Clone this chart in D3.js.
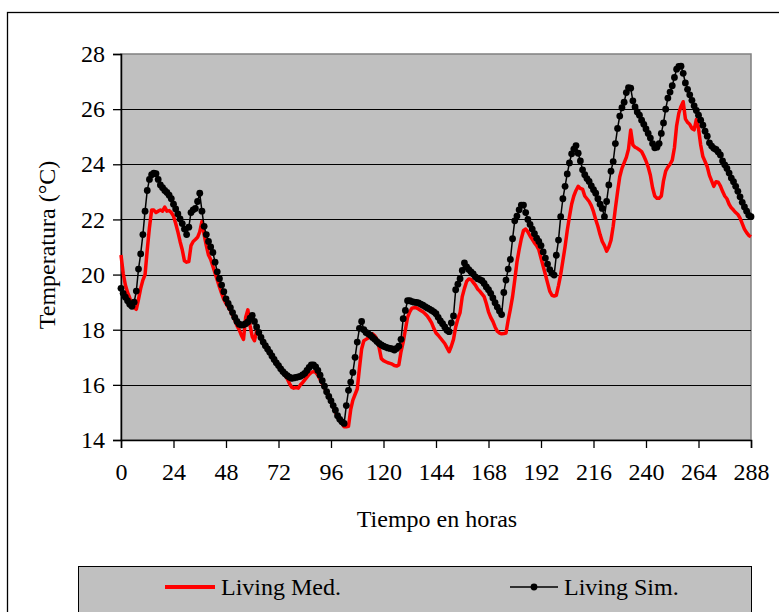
<!DOCTYPE html>
<html>
<head>
<meta charset="utf-8">
<script src="https://cdn.jsdelivr.net/npm/d3@7"></script>
<style>
  html, body { margin: 0; padding: 0; background: #ffffff; }
  svg { display: block; }
  svg text { font-family: 'Liberation Serif', 'Times New Roman', 'DejaVu Serif', serif !important; fill: #000; }
</style>
</head>
<body>
<svg id="chart" width="779" height="612"></svg>
<script>
// ---- data ----
const hours = d3.range(0, 289, 1); // category axis: hour index 0..288
const xTicks = [0, 24, 48, 72, 96, 120, 144, 168, 192, 216, 240, 264, 288];
const yTicks = [14, 16, 18, 20, 22, 24, 26, 28];
const seriesNames = ["Living Med.", "Living Sim."];

const livingMed = [
20.71,20.05,19.62,19.35,19.15,18.92,18.80,18.74,19.10,19.50,19.80,20.00,20.90,21.70,22.34,22.34,22.25,22.30,22.34,22.30,
22.45,22.30,22.32,22.25,22.12,21.85,21.55,21.20,20.90,20.50,20.45,20.47,21.05,21.20,21.27,21.35,21.55,21.92,21.45,21.05,
20.71,20.55,20.30,20.05,19.80,19.55,19.32,19.10,18.95,18.82,18.70,18.52,18.35,18.15,18.00,17.80,17.65,18.45,18.72,18.15,
17.75,17.60,17.95,17.85,17.70,17.55,17.40,17.28,17.15,17.02,16.90,16.78,16.65,16.55,16.45,16.35,16.22,16.05,15.92,15.88,
15.90,15.88,16.00,16.08,16.18,16.28,16.38,16.45,16.48,16.45,16.35,16.20,16.05,15.90,15.72,15.55,15.38,15.20,15.02,14.85,
14.70,14.60,14.48,14.48,14.50,15.10,15.45,15.65,15.85,16.60,17.30,17.60,17.65,17.70,17.80,17.85,17.78,17.65,17.35,16.95,
16.88,16.84,16.80,16.78,16.75,16.70,16.68,16.72,17.20,17.55,18.00,18.45,18.65,18.78,18.80,18.80,18.75,18.70,18.65,18.58,
18.50,18.38,18.25,18.05,17.88,17.80,17.70,17.60,17.50,17.35,17.20,17.40,17.65,18.10,18.40,18.62,19.20,19.50,19.75,19.84,
19.82,19.72,19.62,19.48,19.40,19.30,19.20,18.95,18.65,18.45,18.30,18.10,17.95,17.88,17.85,17.86,17.88,18.35,18.75,19.20,
19.80,20.45,20.90,21.30,21.60,21.65,21.55,21.40,21.28,21.15,21.05,20.90,20.60,20.30,20.00,19.70,19.40,19.25,19.22,19.25,
19.60,20.00,20.50,21.01,21.60,22.10,22.55,22.85,23.05,23.20,23.12,23.10,22.85,22.75,22.65,22.50,22.28,22.00,21.75,21.45,
21.20,21.05,20.85,21.00,21.25,21.75,22.40,23.00,23.55,23.85,24.05,24.25,24.55,25.24,24.70,24.62,24.58,24.52,24.46,24.30,
24.12,23.90,23.60,23.15,22.85,22.77,22.77,22.85,23.40,23.75,23.90,24.00,24.15,24.60,25.40,25.85,26.10,26.27,25.65,25.52,
25.45,25.30,25.25,25.62,25.30,24.70,24.28,24.10,23.91,23.60,23.40,23.20,23.37,23.35,23.22,23.02,22.85,22.75,22.55,22.42,
22.34,22.25,22.18,22.05,21.85,21.65,21.52,21.42,21.37
];

const livingSim = [
19.50,19.32,19.18,19.05,18.92,18.85,19.00,19.40,20.20,20.75,21.45,22.30,23.05,23.45,23.62,23.68,23.66,23.45,23.25,23.15,
23.05,22.98,22.88,22.75,22.55,22.38,22.20,22.02,21.85,21.65,21.45,21.72,22.25,22.35,22.40,22.65,22.95,22.30,21.75,21.45,
21.20,21.00,20.80,20.45,20.10,19.85,19.62,19.38,19.12,18.95,18.80,18.62,18.45,18.30,18.20,18.17,18.18,18.22,18.28,18.42,
18.52,18.30,18.10,17.90,17.72,17.55,17.42,17.30,17.18,17.05,16.92,16.80,16.70,16.58,16.48,16.40,16.33,16.28,16.24,16.25,
16.27,16.29,16.31,16.36,16.42,16.52,16.63,16.72,16.72,16.65,16.52,16.35,16.15,15.95,15.75,15.58,15.42,15.25,15.08,14.88,
14.75,14.66,14.60,15.25,15.80,16.10,16.45,17.00,17.55,18.05,18.30,18.00,17.90,17.85,17.80,17.72,17.65,17.57,17.50,17.45,
17.40,17.37,17.34,17.32,17.30,17.26,17.32,17.40,17.65,18.40,18.70,19.05,19.05,19.02,19.00,18.99,18.97,18.93,18.89,18.84,
18.79,18.75,18.70,18.65,18.58,18.45,18.32,18.22,18.10,17.98,17.93,18.25,18.50,19.45,19.65,19.85,20.15,20.42,20.28,20.18,
20.10,20.02,19.92,19.85,19.82,19.78,19.68,19.55,19.45,19.32,19.15,18.98,18.82,18.68,18.55,19.35,19.80,20.20,20.55,21.30,
21.95,22.12,22.35,22.52,22.52,22.25,22.00,21.82,21.65,21.48,21.32,21.20,21.05,20.82,20.60,20.38,20.18,20.05,19.98,20.70,
21.25,22.10,22.75,23.20,23.65,24.05,24.38,24.55,24.68,24.40,24.12,23.80,23.62,23.48,23.38,23.22,23.08,22.95,22.75,22.55,
22.40,22.10,22.65,23.25,23.75,24.10,24.75,25.30,25.75,26.05,26.25,26.60,26.78,26.76,26.30,26.08,25.90,25.78,25.60,25.45,
25.28,25.12,24.95,24.75,24.60,24.62,24.75,25.12,25.50,26.00,26.40,26.62,26.85,27.15,27.45,27.55,27.56,27.30,26.95,26.72,
26.52,26.32,26.12,25.95,25.78,25.60,25.42,25.20,25.02,24.78,24.66,24.58,24.54,24.45,24.34,24.12,23.98,23.85,23.68,23.50,
23.37,23.20,23.02,22.82,22.62,22.45,22.30,22.15,22.10
];

// ---- layout ----
const svg = d3.select("#chart");
const plot = { left: 121, right: 751, top: 54, bottom: 440 };
const x = d3.scaleLinear().domain([0, 288]).range([plot.left, plot.right]);
const y = d3.scaleLinear().domain([14, 28]).range([plot.bottom, plot.top]);
const FONT = 24;
const FAMILY = "'Liberation Serif', 'Times New Roman', serif";

// outer frame
svg.append("rect")
  .attr("x", 7.5).attr("y", 12.5).attr("width", 800).attr("height", 640)
  .attr("fill", "#fff").attr("stroke", "#000").attr("stroke-width", 1.3);

// plot background
svg.append("rect")
  .attr("x", plot.left).attr("y", plot.top)
  .attr("width", plot.right - plot.left).attr("height", plot.bottom - plot.top)
  .attr("fill", "#C0C0C0").attr("stroke", "#808080").attr("stroke-width", 1.5);

// gridlines
svg.append("g").selectAll("line")
  .data(yTicks.filter(d => d !== 14 && d !== 28))
  .join("line")
  .attr("x1", plot.left).attr("x2", plot.right)
  .attr("y1", d => Math.round(y(d)) + 0.5).attr("y2", d => Math.round(y(d)) + 0.5)
  .attr("stroke", "#000").attr("stroke-width", 1);

// y axis
const yAxis = svg.append("g")
  .attr("transform", `translate(${plot.left},0)`)
  .call(d3.axisLeft(y).tickValues(yTicks).tickSize(8).tickPadding(8).tickFormat(d3.format("d")));
yAxis.attr("font-family", FAMILY).attr("font-size", FONT);
yAxis.select(".domain").attr("stroke", "#000").attr("stroke-width", 1.5);
yAxis.selectAll(".tick line").attr("stroke", "#000").attr("stroke-width", 1.3);
yAxis.selectAll("text").attr("fill", "#000");

// x axis
const xAxis = svg.append("g")
  .attr("transform", `translate(0,${plot.bottom})`)
  .call(d3.axisBottom(x).tickValues(xTicks).tickSize(8).tickPadding(15).tickFormat(d3.format("d")));
xAxis.attr("font-family", FAMILY).attr("font-size", FONT);
xAxis.select(".domain").attr("stroke", "#000").attr("stroke-width", 1.5);
xAxis.selectAll(".tick line").attr("stroke", "#000").attr("stroke-width", 1.3);
xAxis.selectAll("text").attr("fill", "#000");

// axis titles
svg.append("text")
  .attr("x", 437).attr("y", 527)
  .attr("text-anchor", "middle").attr("font-size", FONT).attr("font-family", FAMILY)
  .text("Tiempo en horas");
svg.append("text")
  .attr("transform", "translate(55,245) rotate(-90)")
  .attr("text-anchor", "middle").attr("font-size", FONT).attr("font-family", FAMILY)
  .text("Temperatura (°C)");

// series
const medPts = hours.map((h, i) => [h, livingMed[i]]);
const simPts = hours.map((h, i) => [h, livingSim[i]]);
const line = d3.line().x(d => x(d[0])).y(d => y(d[1]));

svg.append("path")
  .datum(medPts)
  .attr("d", line)
  .attr("fill", "none").attr("stroke", "#FF0000").attr("stroke-width", 3.5)
  .attr("stroke-linejoin", "round");

svg.append("path")
  .datum(simPts)
  .attr("d", line)
  .attr("fill", "none").attr("stroke", "#000").attr("stroke-width", 1.5);

svg.append("g").selectAll("circle")
  .data(simPts)
  .join("circle")
  .attr("cx", d => x(d[0])).attr("cy", d => y(d[1]))
  .attr("r", 3.4).attr("fill", "#000");

// legend
const lg = svg.append("g");
lg.append("rect")
  .attr("x", 78.5).attr("y", 566.5).attr("width", 673).attr("height", 70)
  .attr("fill", "#C0C0C0").attr("stroke", "#000").attr("stroke-width", 1);
lg.append("line")
  .attr("x1", 165).attr("x2", 215).attr("y1", 587).attr("y2", 587)
  .attr("stroke", "#FF0000").attr("stroke-width", 4);
lg.append("text")
  .attr("x", 221).attr("y", 595).attr("font-size", FONT).attr("font-family", FAMILY)
  .text(seriesNames[0]);
lg.append("line")
  .attr("x1", 510).attr("x2", 558).attr("y1", 587).attr("y2", 587)
  .attr("stroke", "#000").attr("stroke-width", 1.5);
lg.append("circle")
  .attr("cx", 534).attr("cy", 587).attr("r", 3.4).attr("fill", "#000");
lg.append("text")
  .attr("x", 564).attr("y", 595).attr("font-size", FONT).attr("font-family", FAMILY)
  .text(seriesNames[1]);
</script>
</body>
</html>
